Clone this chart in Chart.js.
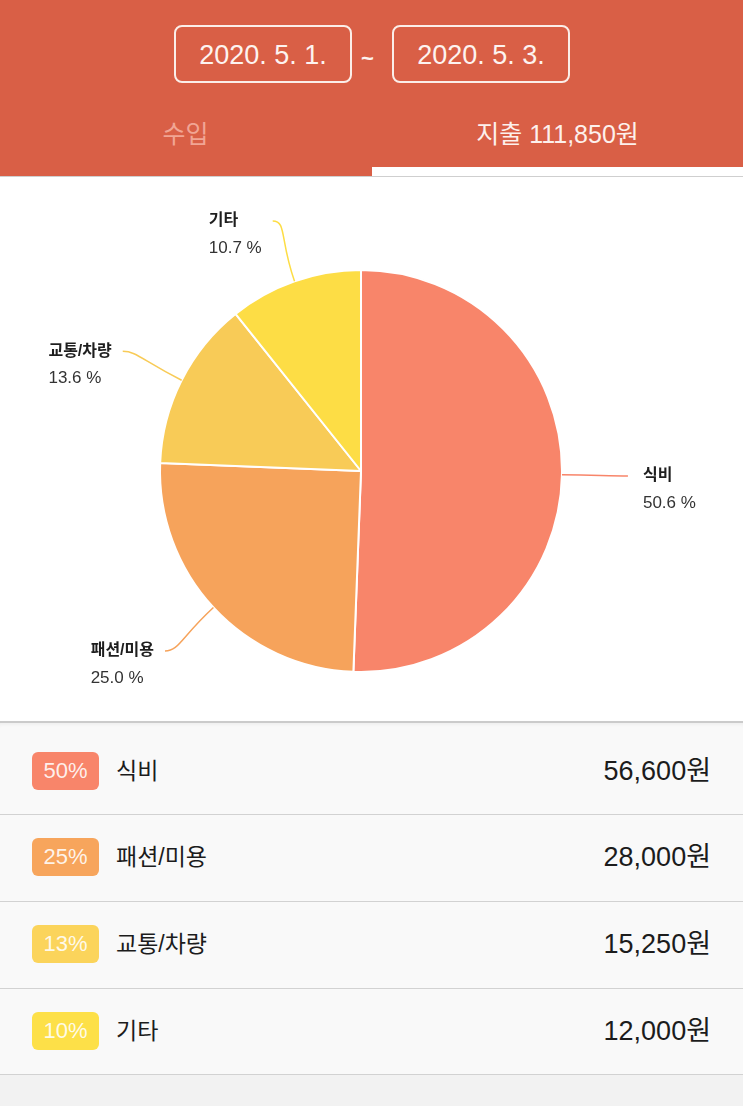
<!DOCTYPE html>
<html lang="ko">
<head>
<meta charset="utf-8">
<title>지출</title>
<script src="https://cdn.jsdelivr.net/npm/chart.js@4"></script>
<style>
  body { margin: 0; width: 743px; height: 1106px; overflow: hidden; background: #f2f2f2;
         font-family: "Liberation Sans", "Noto Sans CJK KR", sans-serif; position: relative; }
  #header { position: absolute; left: 0; top: 0; width: 743px; height: 176px; background: #d95f46; }
  .date { position: absolute; top: 25px; width: 174px; height: 54px; border: 2px solid #fbeee9;
          border-radius: 8px; color: #fdf3f0; font-size: 27px; line-height: 56px; text-align: center; }
  #tilde { position: absolute; left: 361px; top: 46px; color: #fdf3f0; font-size: 22px; font-weight: bold; }
  .tab { position: absolute; top: 114px; width: 371px; text-align: center; font-size: 25px; }
  #underline { position: absolute; left: 372px; top: 167px; width: 371px; height: 9px; background: #fff; }
  #chartBox { position: absolute; left: 0; top: 176px; width: 743px; height: 545px; background: #fff;
              border-top: 1px solid #cfcfcf; box-sizing: border-box; }
  #list { position: absolute; left: 0; top: 721px; width: 743px; }
  .row { position: relative; background: #f9f9f9; border-top: 1px solid #d2d2d2; box-sizing: border-box; }
  .row:first-child { border-top: 2px solid #cbcbcb; box-shadow: inset 0 4px 4px -3px rgba(0,0,0,0.06); }
  .row:last-child { border-bottom: 1px solid #d2d2d2; }
  .badge { position: absolute; left: 32px; width: 67px; height: 38px; border-radius: 6px;
           color: rgba(255,255,255,0.88); font-size: 22px; line-height: 38px; text-align: center; }
  .name { position: absolute; left: 116px; font-size: 23px; color: #1c1c1c; line-height: 38px; }
  .amount { position: absolute; right: 32px; font-size: 27px; color: #1c1c1c; line-height: 38px; }
</style>
</head>
<body>
<div id="header">
  <div class="date" id="dateFrom" style="left:174px"></div>
  <div id="tilde">~</div>
  <div class="date" id="dateTo" style="left:392px"></div>
  <div class="tab" style="left:0;color:#f1a594">수입</div>
  <div class="tab" id="spendTab" style="left:372px;color:#fdf0ec"></div>
  <div id="underline"></div>
</div>
<div id="chartBox"><canvas id="pie" width="743" height="544"></canvas></div>
<div id="list"></div>

<script>
const dateRange = ['2020. 5. 1.', '2020. 5. 3.'];
const categories = ['식비', '패션/미용', '교통/차량', '기타'];
const amounts = [56600, 28000, 15250, 12000];
const colors = ['#f8856a', '#f6a35b', '#f8cb57', '#fddd45'];
const badgeColors = ['#f8856a', '#f7a55c', '#fbd45b', '#fde048'];

const total = amounts.reduce((a, b) => a + b, 0);
const fmt = n => n.toLocaleString('en-US');

document.getElementById('dateFrom').textContent = dateRange[0];
document.getElementById('dateTo').textContent = dateRange[1];
document.getElementById('spendTab').textContent = '지출 ' + fmt(total) + '원';

// list below the chart
const rowHeights = [93, 87, 87, 87];
const list = document.getElementById('list');
categories.forEach((c, i) => {
  const row = document.createElement('div');
  row.className = 'row';
  row.style.height = rowHeights[i] + 'px';
  const top = i === 0 ? 29 : 23;
  const pct = Math.floor(amounts[i] / total * 100);
  row.innerHTML =
    '<div class="badge" style="top:' + top + 'px;background:' + badgeColors[i] + '">' + pct + '%</div>' +
    '<div class="name" style="top:' + top + 'px">' + c + '</div>' +
    '<div class="amount" style="top:' + top + 'px">' + fmt(amounts[i]) + '원</div>';
  list.appendChild(row);
});

// leader lines + labels, like the app's pie labels
const leaders = {
  id: 'leaders',
  afterDraw(chart) {
    const ctx = chart.ctx;
    const meta = chart.getDatasetMeta(0);
    meta.data.forEach((arc, i) => {
      const { x, y, outerRadius, startAngle, endAngle } =
        arc.getProps(['x', 'y', 'outerRadius', 'startAngle', 'endAngle'], true);
      const mid = (startAngle + endAngle) / 2;
      const cos = Math.cos(mid), sin = Math.sin(mid);
      const sx = x + cos * outerRadius, sy = y + sin * outerRadius;
      const ex = x + cos * (outerRadius + 66), ey = y + sin * (outerRadius + 64);
      const right = cos >= 0;

      ctx.save();
      ctx.strokeStyle = colors[i];
      ctx.lineWidth = 1.5;
      ctx.beginPath();
      ctx.moveTo(sx, sy);
      ctx.bezierCurveTo(x + cos * (outerRadius + 45), y + sin * (outerRadius + 45),
                        ex + (right ? -14 : 14), ey, ex, ey);
      ctx.stroke();

      const pctText = (amounts[i] / total * 100).toFixed(1) + ' %';
      const nameFont = 'bold 16px "Liberation Sans", "Noto Sans CJK KR", sans-serif';
      const pctFont = '17px "Liberation Sans", "Noto Sans CJK KR", sans-serif';
      ctx.font = nameFont;
      const w1 = ctx.measureText(categories[i]).width;
      ctx.font = pctFont;
      const w2 = ctx.measureText(pctText).width;
      const tx = right ? ex + 15 : ex - 11 - Math.max(w1, w2);
      ctx.textAlign = 'left';
      ctx.textBaseline = 'middle';
      ctx.fillStyle = '#1e1e1e';
      ctx.font = nameFont;
      ctx.fillText(categories[i], tx, ey);
      ctx.fillStyle = '#333';
      ctx.font = pctFont;
      ctx.fillText(pctText, tx, ey + 27);
      ctx.restore();
    });
  }
};

new Chart(document.getElementById('pie'), {
  type: 'pie',
  data: {
    labels: categories,
    datasets: [{
      data: amounts,
      backgroundColor: colors,
      borderColor: '#fff',
      borderWidth: 2
    }]
  },
  options: {
    responsive: false,
    animation: false,
    devicePixelRatio: 1,
    layout: { padding: { left: 159, right: 180, top: 92, bottom: 48 } },
    plugins: {
      legend: { display: false },
      tooltip: { enabled: false }
    }
  },
  plugins: [leaders]
});
</script>
</body>
</html>
